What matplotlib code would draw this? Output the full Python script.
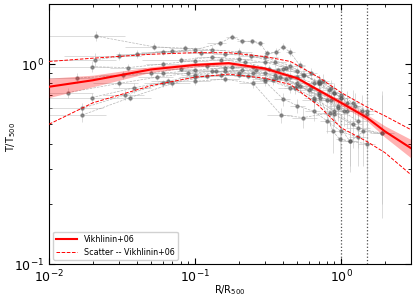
import numpy as np
import matplotlib
matplotlib.use('Agg')
import matplotlib.pyplot as plt
from matplotlib.ticker import NullFormatter

# Vikhlinin+06 mean profile, with its shaded band.
model_r = [0.01, 0.02, 0.05, 0.1, 0.17, 0.3, 0.5, 0.7, 1.0, 1.5, 2.0, 3.0]
model_t = [0.77, 0.83, 0.94, 0.99, 1.01, 0.95, 0.85, 0.74, 0.64, 0.54, 0.46, 0.38]
model_lo = [0.68, 0.77, 0.91, 0.965, 0.99, 0.93, 0.835, 0.725, 0.62, 0.52, 0.43, 0.34]
model_hi = [0.85, 0.88, 0.97, 1.015, 1.03, 0.97, 0.865, 0.755, 0.66, 0.56, 0.49, 0.42]

# Scatter envelope.
scat_r = [0.01, 0.02, 0.05, 0.1, 0.17, 0.3, 0.45, 0.7, 1.0, 1.5, 2.0, 3.0]
scat_hi = [1.03, 1.07, 1.12, 1.14, 1.14, 1.09, 1.03, 0.86, 0.72, 0.61, 0.55, 0.47]
scat_lo = [0.50, 0.64, 0.78, 0.86, 0.89, 0.85, 0.79, 0.62, 0.48, 0.41, 0.36, 0.28]

# Individual cluster profiles (radius, T, T error).
a_r = [0.021, 0.052, 0.085, 0.13, 0.2, 0.3, 0.45, 0.7]
a_t = [1.38, 1.22, 1.20, 1.18, 1.15, 1.08, 0.98, 0.80]
a_dt = [0.08, 0.05, 0.05, 0.05, 0.05, 0.05, 0.06, 0.08]

b_r = [0.03, 0.06, 0.1, 0.148, 0.179, 0.21, 0.245, 0.28, 0.31, 0.36, 0.40, 0.445, 0.52, 0.62, 0.75, 0.9]
b_t = [1.10, 1.15, 1.18, 1.27, 1.37, 1.30, 1.30, 1.27, 1.13, 1.15, 1.22, 1.15, 0.99, 0.90, 0.82, 0.72]
b_dt = [0.05, 0.04, 0.04, 0.04, 0.04, 0.04, 0.04, 0.04, 0.04, 0.05, 0.05, 0.05, 0.05, 0.06, 0.07, 0.08]

c_r = [0.0206, 0.04, 0.07, 0.11, 0.16, 0.24, 0.35, 0.5, 0.7, 1.0]
c_t = [1.05, 1.12, 1.16, 1.14, 1.12, 1.10, 1.02, 0.92, 0.80, 0.68]
c_dt = [0.08, 0.05, 0.04, 0.04, 0.04, 0.04, 0.05, 0.05, 0.07, 0.09]

d_r = [0.0197, 0.035, 0.06, 0.1, 0.15, 0.22, 0.32, 0.45, 0.62, 0.85, 1.1]
d_t = [0.97, 0.96, 1.0, 1.04, 1.05, 1.02, 0.95, 0.86, 0.76, 0.66, 0.58]
d_dt = [0.06, 0.04, 0.04, 0.04, 0.04, 0.04, 0.04, 0.05, 0.06, 0.08, 0.10]

e_r = [0.0155, 0.032, 0.05, 0.08, 0.12, 0.18, 0.26, 0.38, 0.52, 0.72, 0.95, 1.3]
e_t = [0.85, 0.88, 0.90, 0.95, 0.98, 0.97, 0.93, 0.86, 0.78, 0.68, 0.60, 0.52]
e_dt = [0.05, 0.04, 0.04, 0.03, 0.03, 0.03, 0.04, 0.04, 0.05, 0.06, 0.08, 0.10]

f_r = [0.0135, 0.03, 0.055, 0.09, 0.14, 0.21, 0.3, 0.42, 0.6, 0.8, 1.05]
f_t = [0.72, 0.80, 0.86, 0.90, 0.92, 0.93, 0.90, 0.84, 0.74, 0.66, 0.58]
f_dt = [0.04, 0.03, 0.03, 0.03, 0.03, 0.03, 0.04, 0.04, 0.05, 0.07, 0.09]

g_r = [0.0197, 0.038, 0.065, 0.1, 0.16, 0.25, 0.36, 0.5, 0.7, 0.95]
g_t = [0.68, 0.76, 0.82, 0.88, 0.92, 0.90, 0.85, 0.78, 0.70, 0.62]
g_dt = [0.04, 0.04, 0.03, 0.03, 0.03, 0.03, 0.04, 0.05, 0.06, 0.08]

h_r = [0.0168, 0.033, 0.06, 0.1, 0.15, 0.23, 0.34, 0.48, 0.65, 0.9, 1.2]
h_t = [0.60, 0.70, 0.80, 0.86, 0.88, 0.87, 0.83, 0.76, 0.68, 0.58, 0.50]
h_dt = [0.04, 0.04, 0.03, 0.03, 0.03, 0.03, 0.04, 0.05, 0.06, 0.08, 0.12]

i_r = [0.0168, 0.036, 0.07, 0.12, 0.2, 0.3, 0.45, 0.65, 0.9, 1.3, 1.9]
i_t = [0.555, 0.68, 0.80, 0.87, 0.88, 0.84, 0.76, 0.66, 0.56, 0.48, 0.45]
i_dt = [0.04, 0.03, 0.03, 0.03, 0.03, 0.03, 0.04, 0.05, 0.07, 0.10, 0.25]

j_r = [0.1, 0.16, 0.25, 0.39, 0.55, 0.84, 1.15, 1.5]
j_t = [0.82, 0.84, 0.80, 0.555, 0.54, 0.57, 0.41, 0.40]
j_dt = [0.03, 0.03, 0.04, 0.05, 0.06, 0.08, 0.12, 0.15]

k_r = [0.13, 0.2, 0.3, 0.4, 0.5, 0.65, 0.8, 1.0, 1.3]
k_t = [0.92, 0.90, 0.82, 0.67, 0.62, 0.58, 0.52, 0.46, 0.43]
k_dt = [0.03, 0.03, 0.04, 0.05, 0.05, 0.06, 0.07, 0.10, 0.12]

l_r = [0.35, 0.5, 0.7, 0.88, 0.98, 1.15, 1.42, 1.9]
l_t = [0.88, 0.80, 0.72, 0.46, 0.42, 0.41, 0.46, 0.45]
l_dt = [0.05, 0.05, 0.06, 0.10, 0.12, 0.10, 0.15, 0.28]

m_r = [0.06, 0.1, 0.16, 0.25, 0.37, 0.5, 0.65, 0.82, 1.0, 1.25, 1.5]
m_t = [0.90, 0.93, 0.96, 0.97, 0.93, 0.86, 0.80, 0.74, 0.68, 0.62, 0.56]
m_dt = [0.03, 0.03, 0.03, 0.03, 0.04, 0.04, 0.05, 0.06, 0.08, 0.10, 0.12]

n_r = [0.08, 0.13, 0.2, 0.3, 0.42, 0.56, 0.72, 0.9, 1.1, 1.4]
n_t = [1.05, 1.08, 1.06, 1.02, 0.96, 0.88, 0.80, 0.72, 0.64, 0.58]
n_dt = [0.04, 0.03, 0.03, 0.04, 0.04, 0.05, 0.06, 0.07, 0.09, 0.12]

o_r = [0.4, 0.55, 0.7, 0.85, 1.0, 1.2, 1.5]
o_t = [0.95, 0.88, 0.82, 0.76, 0.70, 0.64, 0.58]
o_dt = [0.05, 0.05, 0.06, 0.07, 0.08, 0.10, 0.12]

profiles = [(a_r, a_t, a_dt), (b_r, b_t, b_dt), (c_r, c_t, c_dt), (d_r, d_t, d_dt),
            (e_r, e_t, e_dt), (f_r, f_t, f_dt), (g_r, g_t, g_dt), (h_r, h_t, h_dt),
            (i_r, i_t, i_dt), (j_r, j_t, j_dt), (k_r, k_t, k_dt), (l_r, l_t, l_dt),
            (m_r, m_t, m_dt), (n_r, n_t, n_dt), (o_r, o_t, o_dt)]


# Half bin widths in log space from neighbouring radii.
def bin_errors(r):
    r = np.asarray(r, dtype=float)
    lr = np.log10(r)
    mids = (lr[1:] + lr[:-1]) / 2
    lo_edge = np.concatenate([[lr[0] - (mids[0] - lr[0]) * 2.5], mids])
    hi_edge = np.concatenate([mids, [lr[-1] + (lr[-1] - mids[-1])]])
    return r - 10**lo_edge, 10**hi_edge - r


fig = plt.figure(figsize=(4.15, 2.97), dpi=100)
ax = fig.add_axes([0.118, 0.111, 0.872, 0.876])

for r, t, dt in profiles:
    xlo, xhi = bin_errors(r)
    ax.errorbar(r, t, xerr=[xlo, xhi], yerr=dt, fmt='o', ms=2.2, color='0.35',
                alpha=0.55, ecolor='0.75', elinewidth=0.7, capsize=0, zorder=2)
    ax.plot(r, t, ls='--', lw=0.5, color='0.6', alpha=0.7, zorder=2)

ax.fill_between(model_r, model_lo, model_hi, color='red', alpha=0.3, lw=0, zorder=3)
ax.plot(model_r, model_t, color='red', lw=1.5, label='Vikhlinin+06', zorder=4)
ax.plot(scat_r, scat_hi, color='red', ls='--', lw=0.7, label='Scatter -- Vikhlinin+06', zorder=4)
ax.plot(scat_r, scat_lo, color='red', ls='--', lw=0.7, zorder=4)

ax.axvline(1.0, color='0.3', ls=':', lw=0.9, zorder=1)
ax.axvline(1.5, color='0.3', ls=':', lw=0.9, zorder=1)

ax.set_xscale('log')
ax.set_yscale('log')
ax.set_xlim(0.01, 3.0)
ax.set_ylim(0.1, 2.0)
ax.yaxis.set_minor_formatter(NullFormatter())
ax.xaxis.set_minor_formatter(NullFormatter())
ax.tick_params(which='both', direction='in', top=True, right=True, labelsize=9)
ax.tick_params(which='major', length=4)
ax.tick_params(which='minor', length=2)

ax.set_xlabel(r'R/R$_{500}$', fontsize=7)
ax.set_ylabel(r'T/T$_{500}$', fontsize=7)
ax.xaxis.set_label_coords(0.5, -0.075)
ax.yaxis.set_label_coords(-0.085, 0.49)

ax.legend(loc='lower left', fontsize=5.8, framealpha=0.9, handlelength=2.6)

fig.savefig('out.png', dpi=100)
